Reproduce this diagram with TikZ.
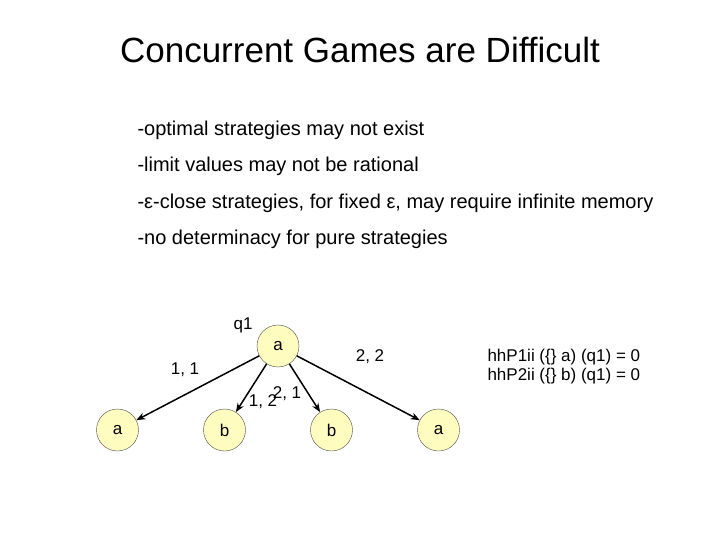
\documentclass[tikz,border=0pt]{standalone}
\usepackage{fontspec}
\setmainfont{Liberation Sans}
\usetikzlibrary{arrows.meta}
\tikzset{
  state/.style={circle,draw=black!70,line width=0.4pt,fill=yellow!25,minimum size=42pt,inner sep=0pt,font=\fontsize{17}{17}\selectfont},
  move/.style={font=\fontsize{17}{17}\selectfont}
}
\begin{document}
\begin{tikzpicture}[x=1pt,y=-1pt]
\useasboundingbox (0,0) rectangle (720,540);
\node (title) at (360,50) {\fontsize{35}{35}\selectfont Concurrent Games are Difficult};
\begin{scope}[every node/.style={anchor=west,font=\fontsize{20}{20}\selectfont}]
\node (l1) at (134,130) {-optimal strategies may not exist};
\node (l2) at (134,166) {-limit values may not be rational};
\node (l3) at (134,203) {-ε-close strategies, for fixed ε, may require infinite memory};
\node (l4) at (134,239) {-no determinacy for pure strategies};
\end{scope}
\begin{scope}[level distance=84pt,sibling distance=107pt,line width=1.5pt,
  edge from parent/.style={draw,-{Stealth[length=9pt,width=7pt]}}]
 \node[state] (q1) at (278,346) {a}
    child { node[state] (s1) {a} }
    child { node[state] (s2) {b} }
    child { node[state] (s3) {b} }
    child { node[state] (s4) {a} };
\end{scope}
\node[move] (lq) at (243,325) {q1};
\node[move] (m11) at (185,370) {1, 1};
\node[move] (m12) at (263,402) {1, 2};
\node[move] (m21) at (287,394) {2, 1};
\node[move] (m22) at (370,357) {2, 2};
\node[move,anchor=west,align=left] (val) at (484,367) {hhP1ii (\{\} a) (q1) = 0\\[2pt]hhP2ii (\{\} b) (q1) = 0};
\end{tikzpicture}
\end{document}
